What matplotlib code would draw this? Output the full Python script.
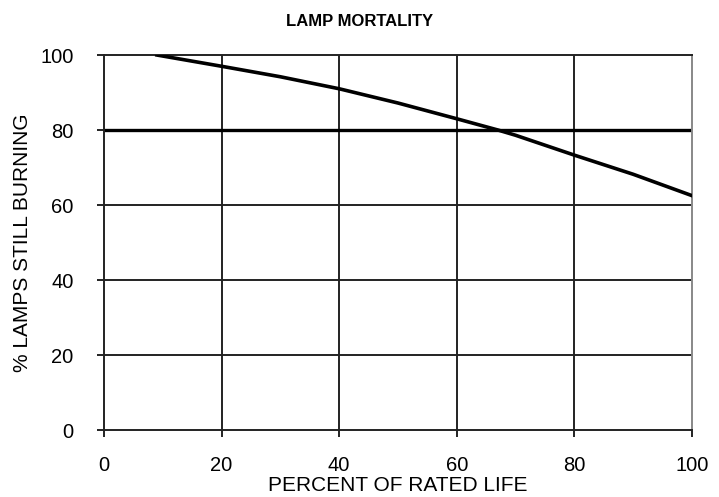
import matplotlib.pyplot as plt

# curve
life_pct = [9, 20, 30, 40, 50, 60, 67, 70, 80, 90, 100]
burning_pct = [100, 97, 94.2, 91, 87.2, 83, 80, 78.6, 73.3, 68.2, 62.5]

ref_level = 80
x_ticks = [0, 20, 40, 60, 80, 100]
y_ticks = [0, 20, 40, 60, 80, 100]

plt.rcParams['font.family'] = ['Liberation Sans', 'DejaVu Sans']

fig = plt.figure(figsize=(7.19, 4.97), dpi=100)
ax = fig.add_axes([0.1446, 0.1348, 0.8178, 0.7545])

for x in x_ticks[1:-1]:
    ax.axvline(x, color='#222222', lw=1.4, zorder=1)
for y in y_ticks[1:-1]:
    if y != ref_level:
        ax.axhline(y, color='#222222', lw=1.4, zorder=1)
ax.axhline(ref_level, color='black', lw=2.4, zorder=2)
ax.plot(life_pct, burning_pct, color='black', lw=2.6, zorder=3)

ax.set_xlim(0, 100)
ax.set_ylim(0, 100)
ax.set_xticks(x_ticks)
ax.set_yticks(y_ticks)
ax.tick_params(direction='out', length=5, width=1.4, labelsize=14.5, color='#222222')
ax.tick_params(axis='x', pad=14)
ax.tick_params(axis='y', pad=17)

for s in ['left', 'bottom', 'top']:
    ax.spines[s].set_linewidth(1.4)
    ax.spines[s].set_color('#222222')
ax.spines['right'].set_color('#888888')
ax.spines['right'].set_linewidth(1.4)

ax.set_xlabel('PERCENT OF RATED LIFE', fontsize=15, va='center')
ax.set_ylabel('% LAMPS STILL BURNING', fontsize=15, va='center')
ax.xaxis.set_label_coords(0.5, -0.147)
ax.yaxis.set_label_coords(-0.138, 0.5)
fig.text(0.5, 0.957, 'LAMP MORTALITY', ha='center', va='center',
         fontsize=12, fontweight='bold', fontstretch='condensed')

fig.savefig('out.png', dpi=100)
